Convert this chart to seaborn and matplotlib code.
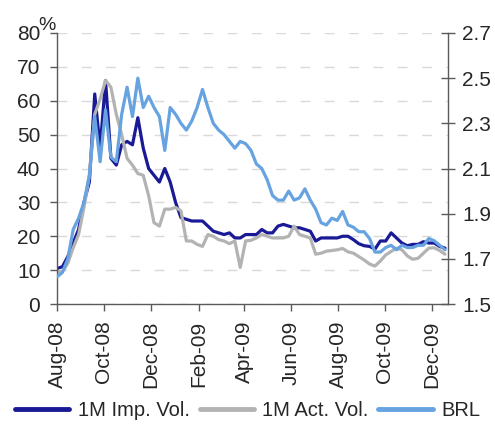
import pandas as pd
import matplotlib
matplotlib.use("Agg")
import matplotlib.pyplot as plt
import matplotlib.dates as mdates
import seaborn as sns

# === DATA (weekly readings, Aug-08 .. Dec-09) ===
dates = pd.date_range("2008-08-01", periods=73, freq="7D")

imp_vol = [10.5, 11, 14, 18, 22, 30, 36, 62, 46, 66,
           43, 41, 47, 48, 47, 55, 46, 40, 38, 36,
           40, 36, 30, 25.5, 25, 24.5, 24.5, 24.5, 23, 21.5,
           21, 20.5, 21, 19.5, 19.5, 20.5, 20.5, 20.5, 22, 21,
           21, 23, 23.5, 23, 22.5, 22.5, 22, 21.5, 18.6, 19.5,
           19.5, 19.5, 19.5, 20, 20, 19, 17.8, 17.2, 17, 16.2,
           18.6, 18.6, 21, 19.5, 18, 17.2, 17.6, 17.6, 18.4, 18,
           18, 17, 16.5]

act_vol = [9.5, 9.5, 12, 16.6, 20.5, 28.5, 38, 56, 60.5, 66,
           64, 56, 50, 43, 41, 38.5, 38, 32, 24, 23,
           28, 28, 28.5, 27.5, 18.6, 18.6, 17.6, 17, 20.5, 20,
           19, 18.6, 17.8, 18.6, 10.8, 18.6, 18.8, 19.5, 20.5, 20,
           19.5, 19.5, 19.5, 20, 23, 20.5, 20, 19.5, 14.7, 15,
           15.6, 15.8, 16, 16.4, 15.4, 15, 14, 13, 11.8, 11.2,
           12.7, 14.5, 15.5, 16.5, 16, 14.2, 13.2, 13.5, 15, 16.5,
           16.6, 15.8, 14.7]

brl = [1.62, 1.64, 1.70, 1.83, 1.88, 1.95, 2.07, 2.33, 2.13, 2.36,
       2.15, 2.13, 2.34, 2.46, 2.33, 2.50, 2.37, 2.42, 2.37, 2.33,
       2.18, 2.37, 2.34, 2.30, 2.27, 2.31, 2.37, 2.45, 2.37, 2.30,
       2.27, 2.25, 2.22, 2.19, 2.22, 2.21, 2.18, 2.12, 2.10, 2.05,
       1.98, 1.96, 1.96, 2.00, 1.96, 1.97, 2.01, 1.96, 1.92, 1.86,
       1.85, 1.88, 1.87, 1.91, 1.85, 1.84, 1.82, 1.82, 1.79, 1.73,
       1.73, 1.75, 1.76, 1.74, 1.76, 1.75, 1.75, 1.76, 1.76, 1.79,
       1.78, 1.76, 1.74]

labels = ["1M Imp. Vol.", "1M Act. Vol.", "BRL"]
left_ticks = [0, 10, 20, 30, 40, 50, 60, 70, 80]
right_ticks = [1.5, 1.7, 1.9, 2.1, 2.3, 2.5, 2.7]

# === STYLE ===
NAVY = "#1a1a96"
GREY = "#b3b3b3"
LIGHT = "#66a3e0"
AXIS = "#5a5a5a"

sns.set_style("white")
plt.rcParams["font.family"] = ["Liberation Sans", "DejaVu Sans"]

fig = plt.figure(figsize=(4.95, 4.28), dpi=100)
ax = fig.add_axes([0.1152, 0.2897, 0.790, 0.6332])
ax2 = ax.twinx()

sns.lineplot(x=dates, y=imp_vol, ax=ax, color=NAVY, linewidth=2.3, legend=False)
sns.lineplot(x=dates, y=act_vol, ax=ax, color=GREY, linewidth=2.3, legend=False)
sns.lineplot(x=dates, y=brl, ax=ax2, color=LIGHT, linewidth=2.3, legend=False)

# === AXES ===
ax.set_ylim(0, 80)
ax.set_yticks(left_ticks)
ax2.set_ylim(1.5, 2.7)
ax2.set_yticks(right_ticks)
ax2.set_yticklabels([f"{v:.1f}" for v in right_ticks])
ax.set_xlim(pd.Timestamp("2008-08-01"), pd.Timestamp("2009-12-22"))
ax.xaxis.set_major_locator(mdates.MonthLocator(bymonth=[2, 4, 6, 8, 10, 12]))
ax.xaxis.set_major_formatter(mdates.DateFormatter("%b-%y"))
for a in (ax, ax2):
    a.set_xlabel("")
    a.set_ylabel("")

ax.yaxis.grid(True, color="#d9d9d9", linewidth=1.0, linestyle=(0, (7, 10.5)))
ax.xaxis.grid(False)
ax2.grid(False)

for s in ["top", "right"]:
    ax.spines[s].set_visible(False)
for s in ["top", "left", "bottom"]:
    ax2.spines[s].set_visible(False)
for s in ["left", "bottom"]:
    ax.spines[s].set_color(AXIS)
    ax.spines[s].set_linewidth(1.0)
ax2.spines["right"].set_color(AXIS)
ax2.spines["right"].set_linewidth(1.0)

ax.tick_params(axis="y", direction="out", length=5, width=1, color=AXIS,
               pad=7, labelsize=15, left=True)
ax.tick_params(axis="x", direction="out", length=5, width=1, color=AXIS,
               pad=7, labelsize=15, rotation=90, bottom=True)
ax2.tick_params(axis="y", direction="inout", length=10, width=1, color=AXIS,
                pad=5, labelsize=15, right=True)

fig.text(0.078, 0.93, "%", fontsize=14, ha="left", va="baseline")

# === LEGEND ===
handles = [ax.lines[0], ax.lines[1], ax2.lines[0]]
leg = fig.legend(handles, labels, loc="lower center", bbox_to_anchor=(0.5, -0.014),
                 ncol=3, frameon=False, fontsize=14.5, handlelength=2.7,
                 handletextpad=0.4, columnspacing=0.5, borderpad=0.2)
for ln in leg.get_lines():
    ln.set_linewidth(3.5)

plt.savefig("out.png", dpi=100)
plt.close()
